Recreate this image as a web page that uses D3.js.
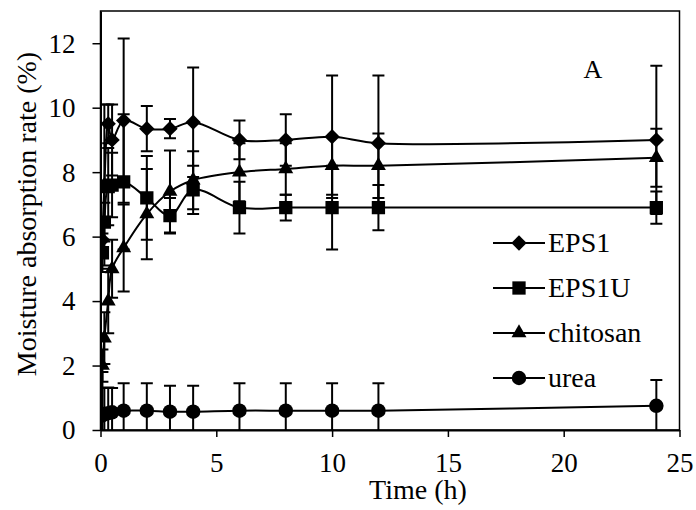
<!DOCTYPE html>
<html>
<head>
<meta charset="utf-8">
<script src="https://cdn.jsdelivr.net/npm/d3@7"></script>
<style>
  body { margin: 0; background: #fff; }
  svg text { font-family: "Liberation Serif", "Times New Roman", Times, serif !important; fill: #000; }
</style>
</head>
<body>
<div class="container"></div>
<script>
const WIDTH = 696
const HEIGHT = 510

// sampling times (h)
const times = [0.083, 0.167, 0.333, 0.5, 1, 2, 3, 4, 6, 8, 10, 12, 24]

const eps1 = [5.9, 7.6, 9.5, 9.0, 9.6, 9.35, 9.35, 9.55, 9.0, 9.0, 9.1, 8.9, 9.0]
const eps1Err = [0.4, 2.5, 0.6, 1.1, 2.55, 0.7, 0.3, 1.7, 0.6, 0.8, 1.9, 2.1, 2.3]

const eps1u = [5.5, 6.45, 7.55, 7.6, 7.7, 7.2, 6.65, 7.45, 6.9, 6.9, 6.9, 6.9, 6.9]
const eps1uErr = [0.6, 0.6, 1.2, 1.0, 2.1, 1.3, 0.55, 0.75, 0.8, 0.4, 1.3, 0.7, 0.5]

const chitosan = [2.0, 2.85, 4.0, 5.0, 5.65, 6.7, 7.4, 7.75, 8.0, 8.1, 8.2, 8.2, 8.45]
const chitosanErr = [0.5, 0.8, 1.0, 0.9, 1.35, 1.4, 1.27, 0.9, 0.9, 0.8, 0.9, 1.0, 0.9]

const urea = [0.45, 0.5, 0.52, 0.55, 0.6, 0.6, 0.57, 0.57, 0.6, 0.6, 0.6, 0.6, 0.75]
const ureaErr = [1.35, 0.8, 0.8, 0.75, 0.85, 0.85, 0.8, 0.8, 0.85, 0.85, 0.85, 0.85, 0.8]

const seriesNames = ['EPS1', 'EPS1U', 'chitosan', 'urea']
const xTicks = [0, 5, 10, 15, 20, 25]
const yTicks = [0, 2, 4, 6, 8, 10, 12]

const series = [
    { name: seriesNames[0], values: eps1, err: eps1Err, symbol: d3.symbolDiamond2, size: 150 },
    { name: seriesNames[1], values: eps1u, err: eps1uErr, symbol: d3.symbolSquare2, size: 225 },
    { name: seriesNames[2], values: chitosan, err: chitosanErr, symbol: d3.symbolTriangle2, size: 160 },
    { name: seriesNames[3], values: urea, err: ureaErr, symbol: d3.symbolCircle, size: 165 }
]

const FONT = 28
const margin = { top: 11, right: 16.5, bottom: 80, left: 100.5 }

const x = d3.scaleLinear().domain([0, 25]).range([margin.left, WIDTH - margin.right])
const y = d3.scaleLinear().domain([0, 13]).range([HEIGHT - margin.bottom, margin.top])

const svg = d3.select('.container').append('svg')
    .attr('width', WIDTH)
    .attr('height', HEIGHT)
    .attr('viewBox', `0 0 ${WIDTH} ${HEIGHT}`)

svg.append('clipPath').attr('id', 'plot-clip')
    .append('rect')
    .attr('x', x(0)).attr('y', y(13))
    .attr('width', x(25) - x(0)).attr('height', y(0) - y(13))

// frame
svg.append('rect')
    .attr('x', x(0)).attr('y', y(13))
    .attr('width', x(25) - x(0)).attr('height', y(0) - y(13))
    .attr('fill', 'none').attr('stroke', '#000').attr('stroke-width', 1.5)

// axes
const xAxis = svg.append('g')
    .attr('transform', `translate(0,${y(0)})`)
    .call(d3.axisBottom(x).tickValues(xTicks).tickSize(7).tickSizeOuter(0))
const yAxis = svg.append('g')
    .attr('transform', `translate(${x(0)},0)`)
    .call(d3.axisLeft(y).tickValues(yTicks).tickSize(8).tickSizeOuter(0).tickPadding(17))

for (const ax of [xAxis, yAxis]) {
    ax.attr('font-size', 27)
    ax.select('.domain').attr('stroke-width', 2)
    ax.selectAll('.tick line').attr('stroke-width', 1.5)
    ax.selectAll('.tick text').attr('fill', '#000')
}
xAxis.selectAll('.tick text').attr('y', 42).attr('dy', 0)
yAxis.selectAll('.tick text').attr('dy', '0.33em')

const plot = svg.append('g').attr('clip-path', 'url(#plot-clip)')

const line = d3.line()
    .x((d, i) => x(times[i]))
    .y(d => y(d))
    .curve(d3.curveCatmullRom)

// error bars
series.forEach(s => {
    const g = plot.append('g').attr('stroke', '#000').attr('stroke-width', 2)
    s.values.forEach((v, i) => {
        const cx = x(times[i])
        const hi = y(v + s.err[i])
        const lo = y(v - s.err[i])
        g.append('line').attr('x1', cx).attr('x2', cx).attr('y1', hi).attr('y2', lo)
        g.append('line').attr('x1', cx - 6).attr('x2', cx + 6).attr('y1', hi).attr('y2', hi)
        g.append('line').attr('x1', cx - 6).attr('x2', cx + 6).attr('y1', lo).attr('y2', lo)
    })
})

// lines and markers
series.forEach(s => {
    plot.append('path')
        .attr('d', line(s.values))
        .attr('fill', 'none')
        .attr('stroke', '#000')
        .attr('stroke-width', 2)
    plot.selectAll(null)
        .data(s.values)
        .join('path')
        .attr('transform', (d, i) => `translate(${x(times[i])},${y(d)})`)
        .attr('d', d3.symbol(s.symbol, s.size))
        .attr('fill', '#000')
})

// legend
const legend = svg.append('g')
series.forEach((s, i) => {
    const ly = 243 + i * 45
    const row = legend.append('g').attr('transform', `translate(493,${ly})`)
    row.append('line').attr('x1', 0).attr('x2', 52).attr('y1', 0).attr('y2', 0)
        .attr('stroke', '#000').attr('stroke-width', 2)
    row.append('path').attr('transform', 'translate(26,0)')
        .attr('d', d3.symbol(s.symbol, s.size)).attr('fill', '#000')
    row.append('text').attr('x', 55).attr('y', 9)
        .attr('font-size', FONT).text(s.name)
})

svg.append('text')
    .attr('x', 593).attr('y', 78)
    .attr('text-anchor', 'middle')
    .attr('font-size', 26)
    .text('A')

svg.append('text')
    .attr('x', 418).attr('y', 499)
    .attr('text-anchor', 'middle')
    .attr('font-size', FONT)
    .text('Time (h)')

svg.append('text')
    .attr('transform', `translate(36,214) rotate(-90)`)
    .attr('text-anchor', 'middle')
    .attr('font-size', FONT)
    .text('Moisture absorption rate (%)')
</script>
</body>
</html>
